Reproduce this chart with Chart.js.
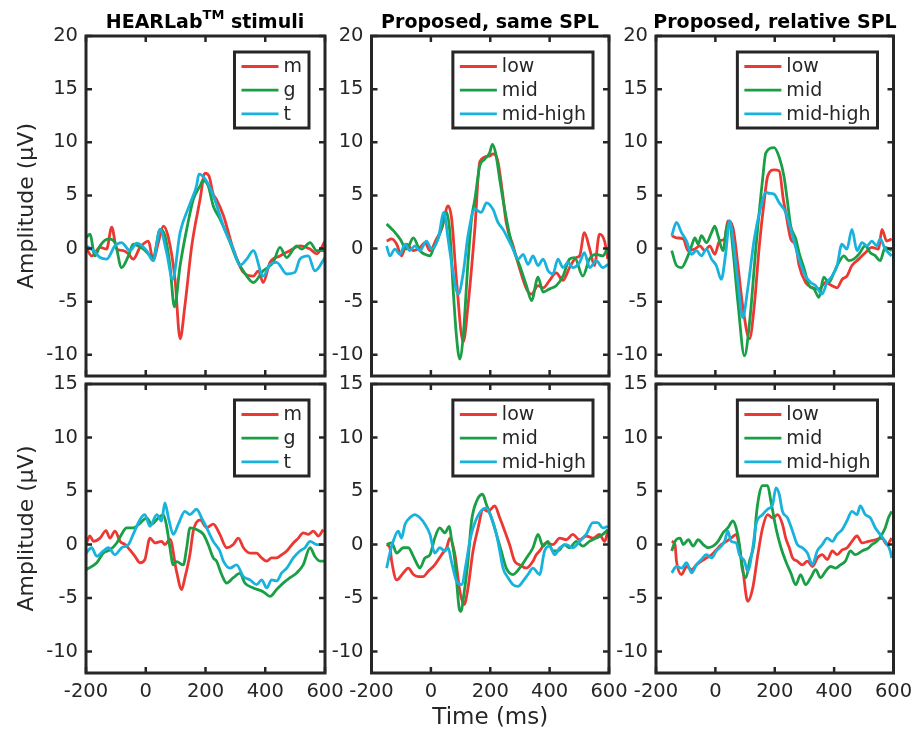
<!DOCTYPE html>
<html>
<head>
<meta charset="utf-8">
<script src="https://cdn.jsdelivr.net/npm/chart.js@4.4.1/dist/chart.umd.min.js"></script>
<style>
  body { margin: 0; background: #fff; }
  #wrap { position: relative; width: 912px; height: 732px; }
  #wrap canvas { position: absolute; left: 0; top: 0; }
  .ttl { position: absolute; top: 12px; width: 300px; text-align: center;
         font: bold 19px "DejaVu Sans"; line-height: 19px; color: #000; white-space: nowrap; }
  .ttl .tm { position: relative; top: -9px; font-size: 13px; }
</style>
</head>
<body>
<div id="wrap">
  <canvas id="c1" width="912" height="732"></canvas>
  <canvas id="c2" width="912" height="732"></canvas>
  <canvas id="c3" width="912" height="732"></canvas>
  <canvas id="c4" width="912" height="732"></canvas>
  <canvas id="c5" width="912" height="732"></canvas>
  <canvas id="c6" width="912" height="732"></canvas>
  <div class="ttl" style="left:55px">HEARLab<span class="tm">TM</span> stimuli</div>
  <div class="ttl" style="left:340px">Proposed, same SPL</div>
  <div class="ttl" style="left:625px">Proposed, relative SPL</div>
</div>
<script>
// ---- data: [time (ms), amplitude (µV)] ----
const xTicks = [-200, 0, 200, 400, 600];
const yTicksTop = [-10, -5, 0, 5, 10, 15, 20];
const yTicksBottom = [-10, -5, 0, 5, 10, 15];
const hearlabLabels = ['m', 'g', 't'];
const proposedLabels = ['low', 'mid', 'mid-high'];

// top row, HEARLab stimuli
const hearTopM = [[-200,0.1],[-181,-0.7],[-153,0.1],[-131,-0.05],[-114,2.0],[-97,-0.05],[-75,-0.2],[-58,-0.5],[-42,-1.0],[-19,0.1],[9,0.7],[25,-1.15],[42,0.55],[59,2.1],[76,1.0],[98,-2.9],[115,-8.5],[131,-5.4],[154,0.25],[182,4.65],[198,7.1],[212,6.8],[226,5.1],[237,4.6],[260,3.1],[293,-0.05],[327,-2.25],[360,-2.6],[377,-2.1],[393,-3.2],[416,-1.3],[449,-0.7],[483,-0.2],[516,0.25],[550,-0.05],[572,-0.5],[600,0.7]];
const hearTopG = [[-200,1.0],[-187,1.35],[-170,-0.7],[-153,0.25],[-125,0.9],[-103,0.55],[-81,-1.8],[-58,-0.7],[-42,0.4],[-8,-0.05],[25,-0.85],[48,1.8],[64,1.2],[81,-1.6],[96,-5.5],[115,-1.6],[137,1.8],[159,4.6],[182,5.9],[192,6.4],[209,5.9],[226,4.0],[248,2.8],[282,0.6],[304,-1.0],[338,-2.6],[360,-3.2],[393,-2.1],[427,-1.3],[449,0.1],[472,-0.85],[505,0.25],[522,-0.05],[550,0.55],[572,-0.2],[600,-0.2]];
const hearTopT = [[-200,0.25],[-175,-0.2],[-153,-0.85],[-131,-1.0],[-103,0.25],[-81,0.55],[-53,-0.2],[-30,0.5],[3,-0.2],[25,-1.15],[48,1.8],[70,-0.4],[90,-2.9],[115,1.5],[148,4.2],[170,5.9],[178,7.0],[200,6.5],[226,5.0],[260,2.1],[293,-0.05],[315,-1.6],[338,-1.0],[360,-0.2],[393,-2.6],[416,-1.5],[438,-1.3],[472,-2.4],[499,-2.25],[516,-1.0],[544,-0.7],[566,-2.1],[600,-0.85]];

// top row, proposed same SPL
const sameTopLow = [[-149,0.7],[-132,0.9],[-115,0.4],[-99,-0.7],[-82,0.4],[-59,-0.2],[-37,0.1],[-20,0.55],[-3,-0.2],[19,0.9],[36,1.8],[58,4.0],[70,2.8],[86,-2.9],[109,-8.8],[125,-5.4],[148,1.8],[165,8.2],[198,8.7],[209,8.9],[225,8.3],[240,5.5],[254,2.4],[277,0.25],[299,-1.9],[322,-3.8],[339,-4.3],[361,-3.5],[378,-3.7],[400,-3.0],[422,-2.3],[445,-3.0],[467,-1.8],[490,-0.85],[501,-0.7],[517,1.5],[535,-0.05],[551,-1.6],[568,1.35],[585,0.7],[596,-1.0]];
const sameTopMid = [[-149,2.3],[-127,1.7],[-104,0.9],[-82,-0.05],[-59,1.0],[-37,-0.2],[-20,-0.55],[-3,-0.7],[8,-0.05],[25,1.0],[41,2.45],[53,3.4],[64,1.5],[75,-3.8],[86,-8.2],[97,-10.4],[109,-8.2],[125,-1.3],[137,2.8],[148,4.6],[165,7.8],[181,8.4],[198,9.0],[207,9.8],[218,9.0],[232,6.5],[243,4.6],[271,0.55],[299,-1.6],[322,-3.5],[339,-4.9],[361,-2.7],[378,-4.1],[400,-3.8],[422,-3.5],[445,-2.6],[467,-1.0],[484,-0.85],[512,-2.6],[534,-1.0],[557,-0.55],[579,-0.7],[596,0.1]];
const sameTopHigh = [[-149,0.25],[-138,-0.7],[-121,-0.05],[-104,-0.55],[-87,0.4],[-71,-0.2],[-54,0.25],[-37,-0.2],[-15,0.7],[2,-0.05],[25,1.0],[44,3.4],[58,0.9],[75,-2.3],[92,-4.3],[109,-2.3],[125,1.2],[148,3.7],[170,3.4],[187,4.3],[209,3.7],[226,2.45],[243,1.8],[260,0.9],[277,-0.05],[294,-1.0],[311,-0.55],[327,-1.5],[344,-0.7],[361,-1.6],[378,-1.0],[395,-2.1],[411,-2.4],[428,-1.0],[445,-1.8],[462,-1.3],[478,-1.8],[501,-1.3],[517,-0.4],[535,-1.8],[557,-1.15],[579,-1.8],[596,-1.5]];

// top row, proposed relative SPL
const relTopLow = [[-147,1.2],[-131,1.0],[-108,0.9],[-92,-0.2],[-69,-0.05],[-52,0.25],[-36,-0.2],[-19,0.25],[-2,-0.55],[14,0.7],[31,0.9],[42,2.6],[59,2.0],[76,-1.6],[92,-5.4],[115,-8.5],[131,-5.4],[148,0.25],[165,4.6],[176,6.8],[198,7.4],[215,7.3],[229,4.6],[237,3.4],[254,0.9],[271,0.25],[282,-1.6],[304,-3.2],[327,-3.7],[349,-3.8],[371,-3.2],[393,-3.5],[410,-3.7],[427,-2.9],[443,-2.6],[460,-1.6],[483,-1.0],[505,-0.4],[527,0.1],[550,-0.05],[561,1.8],[577,0.7],[594,0.9]];
const relTopMid = [[-147,-0.2],[-131,-1.6],[-114,-1.8],[-97,-1.0],[-80,0.25],[-69,1.0],[-58,0.4],[-47,1.2],[-30,0.55],[-13,1.5],[-2,2.1],[9,1.2],[26,-0.2],[37,1.8],[48,2.45],[59,-0.05],[76,-5.1],[98,-10.1],[115,-7.0],[137,0.25],[159,6.5],[170,9.0],[198,9.5],[215,8.6],[231,6.8],[242,4.6],[254,2.1],[271,0.9],[282,-0.4],[299,-1.9],[316,-3.5],[332,-3.8],[349,-4.6],[365,-2.7],[382,-3.2],[399,-2.3],[416,-1.3],[433,-0.7],[449,-1.15],[466,-1.0],[483,-0.55],[505,0.25],[522,-0.4],[539,-0.7],[555,-1.15],[572,0.1],[594,-0.2]];
const relTopHigh = [[-147,1.2],[-131,2.45],[-114,1.5],[-97,0.7],[-80,-0.55],[-64,-0.2],[-47,-0.7],[-30,-0.05],[-13,-1.0],[3,-1.6],[20,-2.9],[35,-0.4],[48,2.6],[59,0.9],[76,-3.2],[92,-6.5],[109,-3.8],[131,0.9],[154,4.0],[170,5.3],[180,5.2],[198,5.1],[215,4.3],[237,3.4],[260,1.2],[282,-1.0],[304,-2.6],[321,-3.2],[338,-3.5],[359,-4.3],[376,-3.2],[393,-2.6],[410,-1.6],[426,0.4],[443,-0.05],[460,1.8],[477,-0.2],[494,0.55],[511,0.25],[527,0.7],[544,0.25],[555,0.9],[572,-0.05],[594,-0.7]];

// bottom row, HEARLab stimuli
const hearBotM = [[-200,0],[-187,0.8],[-175,0.3],[-153,0.6],[-133,1.3],[-120,0.6],[-103,1.25],[-86,0.3],[-69,0],[-53,-0.5],[-36,-1.1],[-19,-1.7],[-3,-1.4],[14,0.6],[31,0.15],[53,0.3],[64,0],[81,0.5],[103,-2.5],[120,-4.2],[131,-3.1],[148,-0.9],[159,1.25],[182,2.3],[204,1.6],[226,1.9],[248,0.95],[271,-0.3],[293,0],[310,0.6],[327,-0.3],[349,-0.8],[371,-0.8],[388,-1.25],[405,-1.55],[421,-1.25],[438,-1.25],[455,-0.95],[472,-0.6],[494,0.15],[511,0.6],[527,1.1],[544,0.95],[561,1.25],[578,0.8],[594,1.4]];
const hearBotG = [[-200,-2.35],[-164,-1.7],[-142,-0.8],[-120,-0.5],[-97,0.15],[-81,0.95],[-64,1.55],[-42,1.55],[-19,2.0],[3,2.5],[20,1.9],[42,2.5],[59,2.8],[70,1.7],[81,-0.3],[92,-1.9],[103,-1.6],[126,-1.9],[137,-0.3],[148,1.55],[170,1.4],[193,0.95],[209,0],[226,-1.25],[237,-1.55],[254,-2.8],[271,-3.6],[293,-3.1],[315,-2.7],[332,-3.6],[360,-4.05],[393,-4.4],[416,-4.85],[438,-4.2],[460,-3.6],[483,-3.1],[505,-2.65],[527,-1.9],[550,-0.3],[566,-1.1],[583,-1.55],[600,-1.55]];
const hearBotT = [[-200,-0.8],[-181,-0.3],[-164,-1.1],[-142,-0.6],[-125,-0.3],[-103,-0.95],[-81,-0.3],[-58,0],[-42,0.95],[-19,2.35],[-3,2.8],[14,1.7],[37,2.8],[53,2.2],[64,3.9],[76,2.5],[92,0.95],[109,1.9],[131,3.1],[148,2.8],[170,3.3],[187,2.5],[204,1.55],[226,0.3],[248,-0.6],[260,-1.55],[282,-2.2],[304,-1.9],[327,-3.0],[349,-3.3],[371,-3.75],[388,-3.3],[405,-4.05],[421,-3.3],[438,-3.4],[455,-2.65],[472,-2.2],[494,-1.25],[516,-0.6],[533,-0.3],[550,0.3],[572,0],[594,0]];

// bottom row, proposed same SPL
const sameBotLow = [[-149,0],[-138,-0.3],[-132,-1.55],[-115,-3.3],[-93,-2.65],[-76,-2.2],[-59,-2.8],[-43,-3.0],[-26,-3.0],[-9,-2.5],[13,-1.9],[36,-0.95],[53,-0.3],[64,0.6],[81,-0.95],[98,-4.4],[112,-5.6],[125,-4.05],[142,-0.6],[159,1.55],[176,3.3],[193,3.1],[215,3.6],[232,2.5],[249,1.25],[265,0],[282,-1.55],[299,-1.9],[322,-2.2],[344,-1.55],[355,-0.95],[366,-0.6],[389,0.15],[411,0],[434,0.6],[456,0.45],[478,0.95],[501,0.45],[523,0.8],[546,0.6],[568,0.95],[585,0.3],[596,1.25]];
const sameBotMid = [[-149,0],[-132,0.15],[-115,-0.8],[-93,-0.3],[-76,-0.3],[-59,-1.1],[-43,-2.0],[-37,-2.2],[-20,-1.25],[-3,-0.95],[13,0.6],[30,1.55],[47,1.1],[62,1.7],[69,0.6],[81,-1.55],[95,-5.9],[101,-6.25],[111,-4.7],[125,-1.55],[137,2.2],[154,4.05],[174,4.7],[187,3.75],[204,2.5],[221,0.95],[237,-0.6],[254,-2.2],[277,-2.8],[299,-2.2],[322,-1.25],[344,-0.3],[361,0.95],[378,-0.15],[394,0.3],[411,-0.6],[428,-0.6],[450,0],[467,-0.3],[490,0.3],[512,-0.15],[534,0.3],[557,0.6],[579,0.95],[596,1.4]];
const sameBotHigh = [[-149,-2.2],[-138,-0.8],[-127,0.3],[-110,1.25],[-99,0.6],[-87,1.9],[-71,2.5],[-54,2.8],[-37,2.5],[-20,1.9],[-3,0.95],[13,-0.8],[30,-0.3],[47,-0.6],[58,-0.3],[69,-1.55],[86,-3.4],[103,-3.75],[120,-1.55],[131,0.3],[142,1.55],[165,3.0],[187,3.4],[204,2.5],[221,0.95],[232,-0.6],[243,-2.2],[260,-3.1],[277,-3.75],[294,-3.9],[311,-3.4],[327,-2.8],[344,-2.2],[366,-2.8],[383,-0.6],[400,-0.15],[417,-0.95],[434,-0.3],[456,0],[478,-0.3],[501,0.3],[523,0.95],[546,2.05],[562,2.05],[579,1.55],[596,1.7]];

// bottom row, proposed relative SPL
const relBotLow = [[-147,0.3],[-136,0],[-131,-1.55],[-114,-2.8],[-97,-2.05],[-80,-2.35],[-64,-1.9],[-47,-1.55],[-30,-1.25],[-13,-0.95],[3,-0.5],[20,0],[37,0.3],[53,0.6],[70,0.95],[81,-0.3],[92,-2.2],[109,-5.3],[126,-4.05],[143,-0.95],[159,1.55],[176,2.8],[193,2.5],[210,2.8],[226,1.9],[237,0.6],[249,-0.3],[260,-1.25],[276,-1.55],[293,-1.9],[310,-1.55],[327,-2.05],[344,-1.25],[360,-0.95],[377,-1.4],[394,-0.6],[410,-0.95],[427,-0.5],[444,-0.3],[460,0.3],[477,0.8],[494,0.15],[516,0.3],[539,0.45],[561,0.6],[578,0],[594,0.6]];
const relBotMid = [[-147,-0.6],[-136,0.3],[-119,0.6],[-108,0],[-91,0.45],[-75,-0.15],[-58,0.45],[-41,0],[-25,-0.3],[-8,-0.15],[9,0.3],[26,1.1],[42,1.55],[59,2.2],[70,1.55],[81,0],[90,-2.2],[103,-3.1],[115,-1.55],[131,0.3],[137,2.5],[148,4.7],[159,5.5],[176,5.5],[187,4.05],[204,1.55],[221,-0.3],[237,-1.55],[254,-2.65],[271,-3.75],[287,-2.8],[304,-3.75],[321,-3.1],[338,-2.35],[354,-3.1],[371,-2.5],[388,-2.05],[405,-2.2],[421,-1.9],[438,-1.55],[455,-0.6],[471,-0.95],[494,-0.6],[516,-0.3],[527,0],[544,0.3],[561,0.95],[572,1.55],[583,2.5],[594,3.1]];
const relBotHigh = [[-147,-2.65],[-131,-2.05],[-114,-2.2],[-97,-1.7],[-80,-2.65],[-64,-1.9],[-47,-1.4],[-30,-0.95],[-13,-1.25],[3,-0.6],[31,0.3],[42,1.25],[53,0.3],[70,0.15],[81,-0.95],[98,-1.55],[109,-2.5],[126,-0.3],[137,1.9],[159,2.8],[176,3.3],[193,3.75],[204,5.3],[215,4.7],[226,3.1],[243,2.5],[260,1.25],[276,0],[293,-0.3],[310,-0.8],[327,-1.9],[343,-0.6],[360,0],[377,0.6],[394,0.3],[410,0.95],[427,1.4],[443,2.2],[460,3.1],[477,2.8],[488,3.6],[505,2.8],[522,2.5],[539,1.55],[555,0.95],[572,0.3],[589,-0.6],[594,-1.25]];

// ---- layout and style ----
const colors = ['#ec3833', '#1a9e46', '#18b2dd'];
const ink = '#262626';
const colLeft = [86, 371.5, 656];
const colRight = [325, 609, 893.5];
const rowTop = [36, 384];
const rowBottom = [376, 673];

const panels = [
  { id: 'c1', row: 0, col: 0, series: [hearTopM, hearTopG, hearTopT], labels: hearlabLabels },
  { id: 'c2', row: 0, col: 1, series: [sameTopLow, sameTopMid, sameTopHigh], labels: proposedLabels },
  { id: 'c3', row: 0, col: 2, series: [relTopLow, relTopMid, relTopHigh], labels: proposedLabels },
  { id: 'c4', row: 1, col: 0, series: [hearBotM, hearBotG, hearBotT], labels: hearlabLabels },
  { id: 'c5', row: 1, col: 1, series: [sameBotLow, sameBotMid, sameBotHigh], labels: proposedLabels },
  { id: 'c6', row: 1, col: 2, series: [relBotLow, relBotMid, relBotHigh], labels: proposedLabels }
];

// box, inward ticks and the boxed legend, drawn over the lines
const framePlugin = {
  id: 'frame',
  afterDatasetsDraw(chart) {
    const { ctx, chartArea: a, scales: { x, y } } = chart;
    ctx.save();
    ctx.strokeStyle = ink;
    ctx.lineWidth = 2.5;
    ctx.beginPath();
    xTicks.forEach(v => {
      const px = x.getPixelForValue(v);
      ctx.moveTo(px, a.bottom); ctx.lineTo(px, a.bottom - 6);
      ctx.moveTo(px, a.top); ctx.lineTo(px, a.top + 6);
    });
    y.ticks.forEach(t => {
      const py = y.getPixelForValue(t.value);
      ctx.moveTo(a.left, py); ctx.lineTo(a.left + 6, py);
      ctx.moveTo(a.right, py); ctx.lineTo(a.right - 6, py);
    });
    ctx.stroke();
    ctx.lineWidth = 3;
    ctx.strokeRect(a.left, a.top, a.width, a.height);

    // legend
    ctx.font = '19px "DejaVu Sans"';
    const sets = chart.data.datasets;
    const textW = Math.max(...sets.map(d => ctx.measureText(d.label).width));
    const w = 49 + textW + 7, h = 76;
    const bx = a.right - 16 - w, by = a.top + 16;
    ctx.fillStyle = '#fff';
    ctx.fillRect(bx, by, w, h);
    ctx.strokeRect(bx, by, w, h);
    sets.forEach((d, i) => {
      const ly = by + 14.5 + i * 23.7;
      ctx.strokeStyle = d.borderColor;
      ctx.lineWidth = 2.8;
      ctx.beginPath();
      ctx.moveTo(bx + 7, ly); ctx.lineTo(bx + 44, ly);
      ctx.stroke();
      ctx.fillStyle = ink;
      ctx.textBaseline = 'middle';
      ctx.fillText(d.label, bx + 49, ly + 1);
    });
    ctx.restore();
  }
};

panels.forEach(p => {
  const L = colLeft[p.col], R = colRight[p.col], T = rowTop[p.row], B = rowBottom[p.row];
  const yW = p.col === 0 ? 76 : 40;
  const xH = p.row === 0 ? 0 : (p.col === 1 ? 59 : 40);
  new Chart(document.getElementById(p.id), {
    type: 'line',
    data: {
      datasets: p.series.map((s, i) => ({
        label: p.labels[i],
        data: s.map(d => ({ x: d[0], y: d[1] })),
        borderColor: colors[i],
        borderWidth: 2.8,
        pointRadius: 0,
        cubicInterpolationMode: 'monotone',
        order: 3 - i
      }))
    },
    options: {
      responsive: false,
      animation: false,
      events: [],
      layout: { padding: { left: L - yW, right: 912 - R, top: T, bottom: 732 - B - xH } },
      plugins: { legend: { display: false }, tooltip: { enabled: false } },
      scales: {
        x: {
          type: 'linear', min: -200, max: 600,
          grid: { display: false, drawTicks: false },
          border: { display: false },
          afterBuildTicks: ax => { ax.ticks = xTicks.map(v => ({ value: v })); },
          afterFit: ax => { ax.height = xH; ax.paddingLeft = 0; ax.paddingRight = 0; },
          ticks: {
            display: p.row === 1, autoSkip: false, maxRotation: 0, padding: 7,
            color: ink, font: { family: 'DejaVu Sans', size: 19.5 }
          },
          title: {
            display: p.row === 1 && p.col === 1, text: 'Time (ms)', color: ink,
            padding: { top: 0, bottom: 0 }, font: { family: 'DejaVu Sans', size: 23 }
          }
        },
        y: {
          min: -12, max: p.row === 0 ? 20 : 15,
          grid: { display: false, drawTicks: false },
          border: { display: false },
          afterBuildTicks: ax => { ax.ticks = (p.row === 0 ? yTicksTop : yTicksBottom).map(v => ({ value: v })); },
          afterFit: ax => { ax.width = yW; ax.paddingTop = 0; ax.paddingBottom = 0; },
          ticks: {
            autoSkip: false, padding: 8,
            color: ink, font: { family: 'DejaVu Sans', size: 19.5 }
          },
          title: {
            display: p.col === 0, text: 'Amplitude (μV)', color: ink,
            padding: { top: 4, bottom: 0 }, font: { family: 'DejaVu Sans', size: 22 }
          }
        }
      }
    },
    plugins: [framePlugin]
  });
});
</script>
</body>
</html>
